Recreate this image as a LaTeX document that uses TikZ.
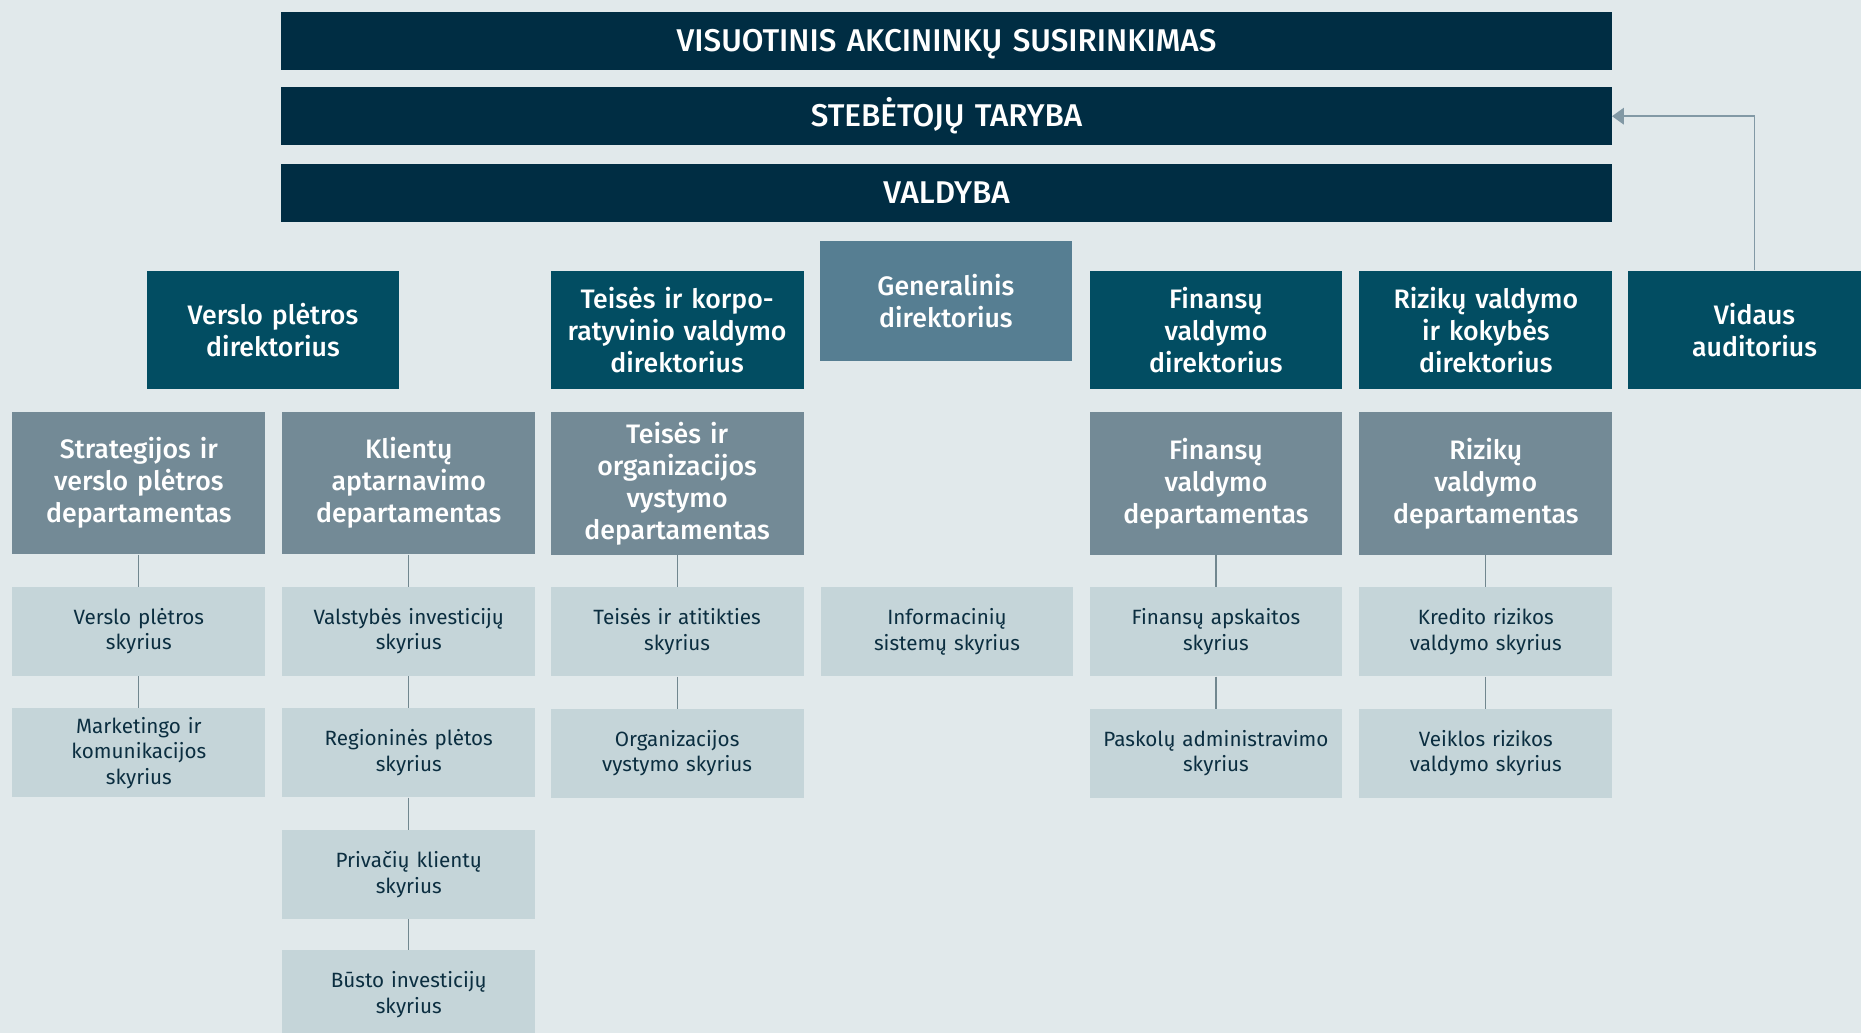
\documentclass[tikz,border=0pt]{standalone}
\usepackage{fontspec}
\setmainfont{Fira Sans}[BoldFont={Fira Sans Medium}]
\usetikzlibrary{positioning,arrows.meta}

\definecolor{bgc}{HTML}{E1E9EB}
\definecolor{navyc}{HTML}{002D43}
\definecolor{dirc}{HTML}{024D62}
\definecolor{genc}{HTML}{567E92}
\definecolor{deptc}{HTML}{738A96}
\definecolor{unitc}{HTML}{C5D5D9}
\definecolor{unittxt}{HTML}{0B2E40}
\definecolor{linec}{HTML}{71878F}
\definecolor{arrc}{HTML}{8299A5}

\tikzset{
  box/.style={inner sep=0pt, align=center, text width=208pt, minimum width=213pt},
  bar/.style={box, fill=navyc, text=white, minimum width=1121pt, text width=1100pt,
    minimum height=49pt, text height=18pt, text depth=0pt, font=\fontsize{26.5}{30}\selectfont\bfseries},
  dir/.style={box, fill=dirc, text=white, minimum height=100pt,
    font=\fontsize{22.5}{27}\selectfont\bfseries},
  gen/.style={dir, fill=genc, minimum height=101pt},
  dept/.style={box, fill=deptc, text=white, minimum height=120pt,
    font=\fontsize{22.5}{27}\selectfont\bfseries},
  unit/.style={box, fill=unitc, text=unittxt, minimum height=75pt,
    font=\fontsize{17.4}{21.5}\selectfont},
  link/.style={draw=linec, line width=1pt},
}

\begin{document}
\begin{tikzpicture}[x=1pt,y=-1pt]
    \fill[bgc] (0,0) rectangle (1568,870);
    \useasboundingbox (0,0) rectangle (1568,870);

    \node[bar] (vas) at (797.5,34.5) {VISUOTINIS AKCININKŲ SUSIRINKIMAS};
    \node[bar, below=14pt of vas] (st) {STEBĖTOJŲ TARYBA};
    \node[bar, below=15pt of st] (vald) {VALDYBA};

    \node[dir] (vpdir) at (230,278) {Verslo plėtros\\direktorius};
    \node[dir] (tkdir) at (570.5,278) {Teisės ir korpo-\\ratyvinio valdymo\\direktorius};
    \node[gen] (gendir) at (797,253.5) {Generalinis\\direktorius};
    \node[dir] (fdir) at (1024.5,278) {Finansų\\valdymo\\direktorius};
    \node[dir, right=14pt of fdir] (rdir) {Rizikų valdymo\\ir kokybės\\direktorius};
    \node[dir, right=13pt of rdir] (vaud) {Vidaus\\auditorius};

    \node[dept] (sdept) at (117,407) {Strategijos ir\\verslo plėtros\\departamentas};
    \node[dept, right=14pt of sdept] (kdept) {Klientų\\aptarnavimo\\departamentas};
    \node[dept, below=19pt of tkdir] (tdept) {Teisės ir\\organizacijos\\vystymo\\departamentas};
    \node[dept, below=19pt of fdir] (fdept) {Finansų\\valdymo\\departamentas};
    \node[dept, below=19pt of rdir] (rdept) {Rizikų\\valdymo\\departamentas};

    \node[unit, below=27pt of sdept] (su1) {Verslo plėtros\\skyrius};
    \node[unit, below=27pt of su1] (su2) {Marketingo ir\\komunikacijos\\skyrius};
    \node[unit, below=27pt of kdept] (ku1) {Valstybės investicijų\\skyrius};
    \node[unit, below=27pt of ku1] (ku2) {Regioninės plėtos\\skyrius};
    \node[unit, below=27pt of ku2] (ku3) {Privačių klientų\\skyrius};
    \node[unit, below=26pt of ku3] (ku4) {Būsto investicijų\\skyrius};
    \node[unit, below=27pt of tdept] (tu1) {Teisės ir atitikties\\skyrius};
    \node[unit, below=27pt of tu1] (tu2) {Organizacijos\\vystymo skyrius};
    \node[unit, right=14pt of tu1] (iu1) {Informacinių\\sistemų skyrius};
    \node[unit, below=27pt of fdept] (fu1) {Finansų apskaitos\\skyrius};
    \node[unit, below=27pt of fu1] (fu2) {Paskolų administravimo\\skyrius};
    \node[unit, below=27pt of rdept] (ru1) {Kredito rizikos\\valdymo skyrius};
    \node[unit, below=27pt of ru1] (ru2) {Veiklos rizikos\\valdymo skyrius};

    \draw[link] (sdept) -- (su1) -- (su2);
    \draw[link] (kdept) -- (ku1) -- (ku2) -- (ku3) -- (ku4);
    \draw[link] (tdept) -- (tu1) -- (tu2);
    \draw[link] (fdept) -- (fu1) -- (fu2);
    \draw[link] (rdept) -- (ru1) -- (ru2);

    \draw[draw=arrc, line width=1.3pt, -{Triangle[length=10pt,width=14pt]}] (vaud.north) |- (st.east);
\end{tikzpicture}
\end{document}
